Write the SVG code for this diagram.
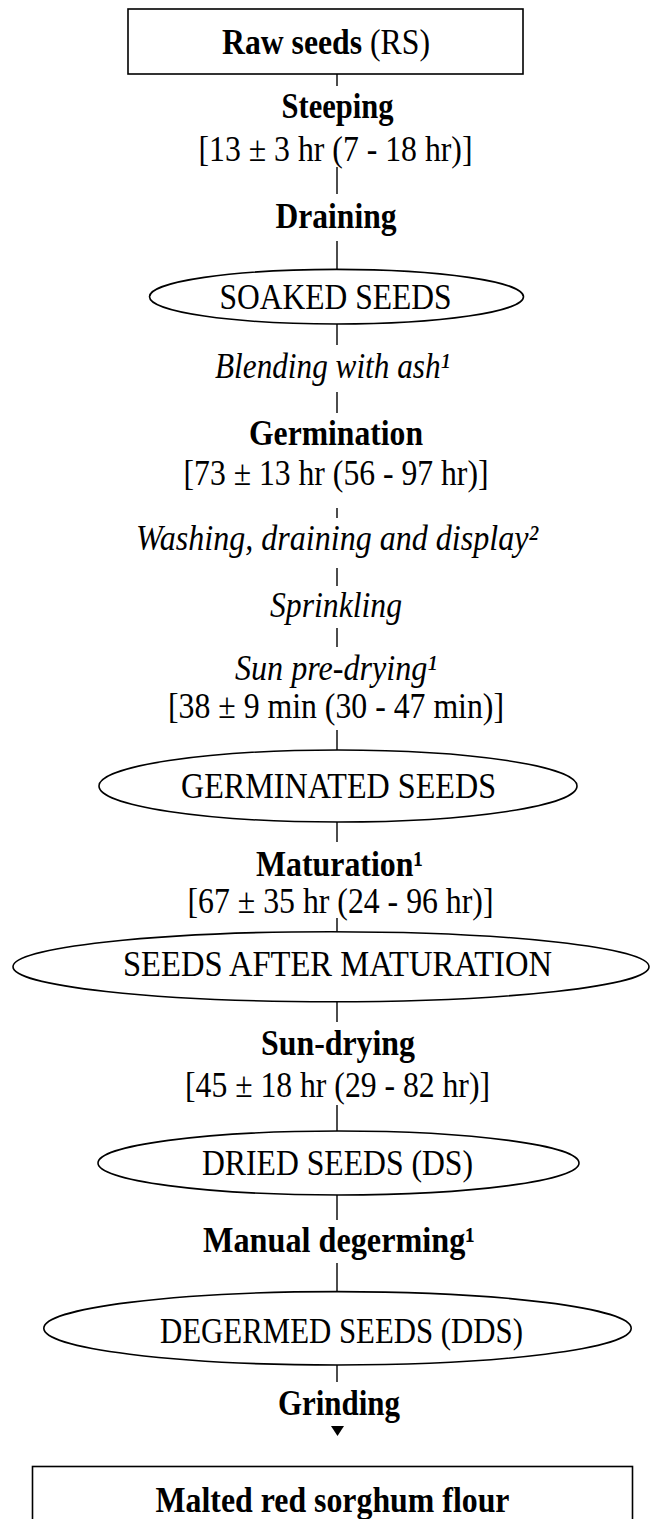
<svg xmlns="http://www.w3.org/2000/svg" width="653" height="1519" viewBox="0 0 653 1519">
<style>
.t{font-family:"Liberation Serif","Times New Roman",serif;font-size:35px;fill:#000;text-anchor:middle}
.s{text-anchor:start}
.b{font-weight:bold}
.i{font-style:italic}
.shape{fill:#fff;stroke:#000;stroke-width:1.6}
.ln{stroke:#000;stroke-width:1.4;fill:none}
</style>
<rect width="653" height="1519" fill="#fff"/>
<g id="connectors">
<line class="ln" x1="337" y1="74" x2="337" y2="86"/>
<line class="ln" x1="337" y1="167" x2="337" y2="194"/>
<line class="ln" x1="337" y1="241" x2="337" y2="269"/>
<line class="ln" x1="337" y1="324" x2="337" y2="345"/>
<line class="ln" x1="337" y1="392" x2="337" y2="413"/>
<line class="ln" x1="337" y1="508" x2="337" y2="518"/>
<line class="ln" x1="337" y1="568" x2="337" y2="586"/>
<line class="ln" x1="337" y1="628" x2="337" y2="647"/>
<line class="ln" x1="337" y1="730" x2="337" y2="750"/>
<line class="ln" x1="337" y1="822" x2="337" y2="842"/>
<line class="ln" x1="337" y1="918" x2="337" y2="932"/>
<line class="ln" x1="337" y1="1002" x2="337" y2="1022"/>
<line class="ln" x1="337" y1="1105" x2="337" y2="1131"/>
<line class="ln" x1="337" y1="1195" x2="337" y2="1220"/>
<line class="ln" x1="337" y1="1263" x2="337" y2="1292"/>
<line class="ln" x1="337" y1="1365" x2="337" y2="1382"/>
<polygon points="331,1426 344,1426 337.5,1436" fill="#000"/>
</g>
<g id="raw-seeds">
<rect class="shape" x="128" y="9" width="395" height="65"/>
<text class="t s b" x="222" y="54" textLength="140" lengthAdjust="spacingAndGlyphs">Raw seeds</text>
<text class="t s" x="370" y="54" textLength="60" lengthAdjust="spacingAndGlyphs">(RS)</text>
</g>
<g id="steeping">
<text class="t b" x="337.5" y="118" textLength="112" lengthAdjust="spacingAndGlyphs">Steeping</text>
<text class="t" x="335.5" y="161" textLength="274" lengthAdjust="spacingAndGlyphs">[13 ± 3 hr (7 - 18 hr)]</text>
</g>
<g id="draining">
<text class="t b" x="336" y="228" textLength="121" lengthAdjust="spacingAndGlyphs">Draining</text>
</g>
<g id="soaked-seeds">
<ellipse class="shape" cx="336.5" cy="296.7" rx="187" ry="27.3"/>
<text class="t" x="335.5" y="309" textLength="232" lengthAdjust="spacingAndGlyphs">SOAKED SEEDS</text>
</g>
<g id="blending">
<text class="t i" x="332.5" y="378" textLength="235" lengthAdjust="spacingAndGlyphs">Blending with ash¹</text>
</g>
<g id="germination">
<text class="t b" x="336" y="445" textLength="174" lengthAdjust="spacingAndGlyphs">Germination</text>
<text class="t" x="336" y="485" textLength="305" lengthAdjust="spacingAndGlyphs">[73 ± 13 hr (56 - 97 hr)]</text>
</g>
<g id="washing">
<text class="t i" x="337" y="550" textLength="402" lengthAdjust="spacingAndGlyphs">Washing, draining and display²</text>
</g>
<g id="sprinkling">
<text class="t i" x="336" y="617" textLength="132" lengthAdjust="spacingAndGlyphs">Sprinkling</text>
</g>
<g id="sun-pre-drying">
<text class="t i" x="336" y="680" textLength="202" lengthAdjust="spacingAndGlyphs">Sun pre-drying¹</text>
<text class="t" x="336" y="718" textLength="336" lengthAdjust="spacingAndGlyphs">[38 ± 9 min (30 - 47 min)]</text>
</g>
<g id="germinated-seeds">
<ellipse class="shape" cx="338" cy="786" rx="239" ry="36"/>
<text class="t" x="338.5" y="797.5" textLength="315" lengthAdjust="spacingAndGlyphs">GERMINATED SEEDS</text>
</g>
<g id="maturation">
<text class="t b" x="339.5" y="876" textLength="167" lengthAdjust="spacingAndGlyphs">Maturation¹</text>
<text class="t" x="340.5" y="913" textLength="306" lengthAdjust="spacingAndGlyphs">[67 ± 35 hr (24 - 96 hr)]</text>
</g>
<g id="seeds-after-maturation">
<ellipse class="shape" cx="331" cy="966.7" rx="318" ry="35"/>
<text class="t" x="337.5" y="976" textLength="429" lengthAdjust="spacingAndGlyphs">SEEDS AFTER MATURATION</text>
</g>
<g id="sun-drying">
<text class="t b" x="338" y="1055" textLength="154" lengthAdjust="spacingAndGlyphs">Sun-drying</text>
<text class="t" x="337.5" y="1097" textLength="305" lengthAdjust="spacingAndGlyphs">[45 ± 18 hr (29 - 82 hr)]</text>
</g>
<g id="dried-seeds">
<ellipse class="shape" cx="338.5" cy="1163" rx="240.5" ry="32"/>
<text class="t" x="337.5" y="1174.5" textLength="271" lengthAdjust="spacingAndGlyphs">DRIED SEEDS (DS)</text>
</g>
<g id="manual-degerming">
<text class="t b" x="339" y="1252" textLength="272" lengthAdjust="spacingAndGlyphs">Manual degerming¹</text>
</g>
<g id="degermed-seeds">
<ellipse class="shape" cx="337.5" cy="1328.3" rx="293.7" ry="36.7"/>
<text class="t" x="341.5" y="1343" textLength="363" lengthAdjust="spacingAndGlyphs">DEGERMED SEEDS (DDS)</text>
</g>
<g id="grinding">
<text class="t b" x="339" y="1415" textLength="122" lengthAdjust="spacingAndGlyphs">Grinding</text>
</g>
<g id="malted-flour">
<rect class="shape" x="32.5" y="1466.5" width="600" height="80"/>
<text class="t b" x="332.5" y="1511.5" textLength="354" lengthAdjust="spacingAndGlyphs">Malted red sorghum flour</text>
</g>
</svg>
